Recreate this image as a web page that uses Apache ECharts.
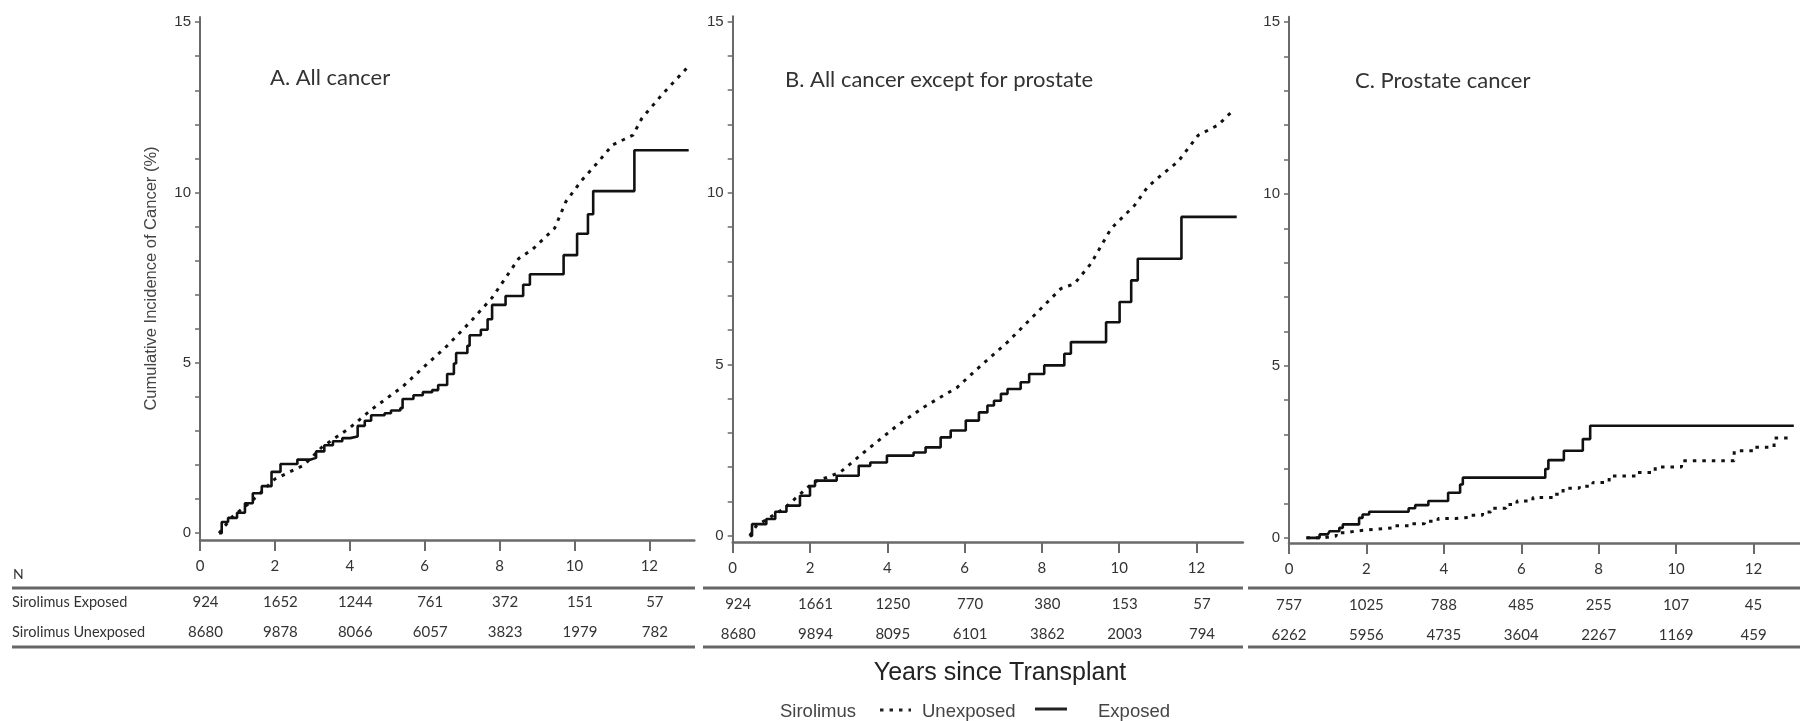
<!DOCTYPE html>
<html><head><meta charset="utf-8">
<script src="https://cdn.jsdelivr.net/npm/echarts@6/dist/echarts.min.js"></script>
<style>html,body{margin:0;padding:0;background:#fff;}#c{width:1800px;height:721px;}</style>
</head><body><div id="c"></div>
<script>
// ---------------- data ----------------
const X_TICKS = [0, 2, 4, 6, 8, 10, 12];
const Y_LABELS = [0, 5, 10, 15];
const Y_TICKS = [0, 1, 2, 3, 4, 5, 6, 7, 8, 9, 10, 11, 12, 13, 14, 15];

const titles = ['A. All cancer', 'B. All cancer except for prostate', 'C. Prostate cancer'];

// [years, cumulative incidence %]
const A_unexposed = [[0.51,0],[0.87,0.49],[1.35,0.91],[2.0,1.59],[2.78,2.0],[3.26,2.53],[4.01,3.10],[4.57,3.62],[5.41,4.30],[6.03,4.93],[6.60,5.50],[7.20,6.18],[7.80,6.91],[8.51,8.06],[8.87,8.32],[9.47,8.95],[9.77,9.73],[10.19,10.35],[10.66,10.93],[11.02,11.40],[11.56,11.68],[11.8,12.18],[12.33,12.86],[12.99,13.64]];
const A_exposed = [[0.51,0],[0.58,0.33],[0.75,0.45],[0.99,0.6],[1.2,0.88],[1.41,1.17],[1.65,1.38],[1.91,1.80],[2.15,2.03],[2.6,2.16],[2.96,2.21],[3.1,2.4],[3.32,2.58],[3.55,2.7],[3.80,2.79],[4.01,2.84],[4.21,3.15],[4.4,3.3],[4.57,3.46],[4.93,3.52],[5.1,3.6],[5.35,3.67],[5.41,3.94],[5.7,4.05],[5.95,4.14],[6.2,4.2],[6.36,4.35],[6.6,4.67],[6.78,4.98],[6.84,5.29],[7.14,5.50],[7.20,5.81],[7.50,5.97],[7.68,6.28],[7.80,6.70],[8.16,6.96],[8.63,7.29],[8.81,7.60],[9.71,8.16],[10.07,8.79],[10.36,9.36],[10.5,10.04],[11.6,11.24],[13.05,11.24]];

const B_unexposed = [[0.44,0],[0.61,0.29],[1.31,0.78],[2.09,1.56],[2.78,1.85],[3.39,2.43],[4.25,3.21],[4.94,3.75],[5.81,4.33],[6.33,4.87],[7.11,5.65],[7.97,6.62],[8.49,7.21],[8.84,7.35],[9.27,7.94],[9.79,8.96],[10.4,9.64],[10.74,10.18],[11.09,10.52],[11.52,10.91],[11.65,11.10],[12.04,11.68],[12.56,11.98],[12.95,12.41]];
const B_exposed = [[0.44,0],[0.5,0.34],[0.87,0.49],[1.1,0.7],[1.39,0.88],[1.74,1.17],[2.0,1.45],[2.13,1.61],[2.69,1.75],[3.26,2.04],[3.56,2.14],[3.99,2.34],[4.68,2.43],[4.99,2.58],[5.38,2.87],[5.64,3.07],[6.03,3.36],[6.37,3.60],[6.59,3.80],[6.76,3.94],[6.94,4.14],[7.11,4.28],[7.45,4.48],[7.67,4.72],[8.06,4.97],[8.58,5.31],[8.75,5.65],[9.66,6.23],[10.01,6.82],[10.31,7.45],[10.48,8.08],[11.61,9.30],[13.04,9.30]];

const C_unexposed = [[0.45,0],[0.88,0.05],[1.22,0.15],[1.5,0.2],[1.73,0.24],[2.15,0.29],[2.7,0.35],[3.17,0.41],[3.5,0.48],[3.85,0.56],[4.3,0.6],[4.70,0.66],[5.0,0.75],[5.21,0.86],[5.6,0.97],[5.89,1.07],[6.3,1.17],[6.83,1.27],[7.08,1.44],[7.5,1.5],[7.85,1.61],[8.27,1.80],[8.95,1.90],[9.46,2.06],[10.14,2.24],[11.5,2.53],[12.02,2.63],[12.53,2.90],[12.95,2.90]];
const C_exposed = [[0.45,0],[0.79,0.1],[1.0,0.15],[1.05,0.19],[1.30,0.29],[1.39,0.39],[1.81,0.58],[1.90,0.68],[2.07,0.76],[3.09,0.86],[3.26,0.95],[3.60,1.07],[4.11,1.31],[4.42,1.55],[4.49,1.75],[6.62,2.0],[6.70,2.26],[7.10,2.53],[7.59,2.87],[7.78,3.26],[13.04,3.26]];

const nExposedA = [924, 1652, 1244, 761, 372, 151, 57];
const nUnexposedA = [8680, 9878, 8066, 6057, 3823, 1979, 782];
const nExposedB = [924, 1661, 1250, 770, 380, 153, 57];
const nUnexposedB = [8680, 9894, 8095, 6101, 3862, 2003, 794];
const nExposedC = [757, 1025, 788, 485, 255, 107, 45];
const nUnexposedC = [6262, 5956, 4735, 3604, 2267, 1169, 459];

const rowLabels = ['Sirolimus Exposed', 'Sirolimus Unexposed'];

// ---------------- layout ----------------
const XMAX = 13.2, YMAX = 15.15;
const panels = [
  { grid: {left: 200, top: 17, width: 494.3, height: 523}, ymin: -0.2, titlePos: [270, 67],
    unexp: A_unexposed, exp: A_exposed, unexpStep: false, nE: nExposedA, nU: nUnexposedA, shift: 11, line: [12, 695] },
  { grid: {left: 732.7, top: 16.3, width: 510.2, height: 525.7}, ymin: -0.18, titlePos: [785, 69],
    unexp: B_unexposed, exp: B_exposed, unexpStep: false, nE: nExposedB, nU: nUnexposedB, shift: 11, line: [703, 1243] },
  { grid: {left: 1289, top: 16.7, width: 516.1, height: 526.3}, ymin: -0.15, titlePos: [1355, 70],
    unexp: C_unexposed, exp: C_exposed, unexpStep: 'end', nE: nExposedC, nU: nUnexposedC, shift: 0, line: [1248, 1800] }
];

const CAL = 'Lato, "Open Sans", sans-serif';
const ARI = '"Liberation Sans", Arial, sans-serif';
const NAR = '"Liberation Sans Narrow", "Liberation Sans", Arial, sans-serif';
const AX = '#6a6a6a';

const grids = [], xAxes = [], yAxes = [], series = [], titleArr = [], graphics = [];

panels.forEach((p, i) => {
  grids.push(Object.assign({containLabel: false}, p.grid));
  xAxes.push({
    gridIndex: i, type: 'value', min: 0, max: XMAX,
    axisLine: {show: true, onZero: false, lineStyle: {color: AX, width: 2.5}},
    axisTick: {show: true, customValues: X_TICKS, length: 11, lineStyle: {color: AX, width: 2}},
    axisLabel: {customValues: X_TICKS, margin: 19, fontFamily: CAL, fontSize: 15, color: '#333'},
    splitLine: {show: false}
  });
  yAxes.push({
    gridIndex: i, type: 'value', min: p.ymin, max: YMAX,
    axisLine: {show: true, onZero: false, lineStyle: {color: AX, width: 2}},
    axisTick: {show: true, customValues: Y_TICKS, length: 5, lineStyle: {color: AX, width: 1.5}},
    axisLabel: {customValues: Y_LABELS, margin: 9, fontFamily: NAR, fontSize: 15, color: '#333'},
    splitLine: {show: false},
    name: i === 0 ? 'Cumulative Incidence of Cancer (%)' : '',
    nameLocation: 'middle', nameGap: 40, nameRotate: 90,
    nameTextStyle: {fontFamily: ARI, fontSize: 16.5, color: '#444'}
  });
  titleArr.push({
    text: titles[i], left: p.titlePos[0], top: p.titlePos[1], padding: 0,
    textStyle: {fontFamily: CAL, fontSize: 22, fontWeight: 'normal', color: '#333'}
  });
  series.push({
    name: 'Unexposed', type: 'line', xAxisIndex: i, yAxisIndex: i, data: p.unexp,
    step: p.unexpStep, symbol: 'none', showSymbol: false, silent: true,
    lineStyle: {color: '#111', width: 3, type: [3.5, 6]}
  });
  series.push({
    name: 'Exposed', type: 'line', xAxisIndex: i, yAxisIndex: i, data: p.exp,
    step: 'end', symbol: 'none', showSymbol: false, silent: true,
    lineStyle: {color: '#111', width: 2.6}
  });
  // table lines
  [588, 647].forEach(y => graphics.push({
    type: 'line', shape: {x1: p.line[0], y1: y, x2: p.line[1], y2: y},
    style: {stroke: '#666', lineWidth: 3}, silent: true
  }));
});

// table "axes": number at risk rows placed by the same x scale
panels.forEach((p, i) => {
  [[p.nE, 47], [p.nU, 77]].forEach(([arr, off]) => {
    xAxes.push({
      gridIndex: i, type: 'value', min: 0, max: XMAX, position: 'bottom', offset: off,
      axisLine: {show: false, onZero: false}, axisTick: {show: false}, splitLine: {show: false},
      axisLabel: {
        customValues: X_TICKS, margin: 8, fontFamily: CAL, fontSize: 15, color: '#333',
        padding: [0, 0, 0, p.shift],
        formatter: v => { const k = X_TICKS.indexOf(v); return k >= 0 ? String(arr[k]) : ''; }
      }
    });
  });
});

// side texts
graphics.push({type: 'text', left: 13, top: 567, style: {text: 'N', font: '14px ' + CAL, fill: '#333'}, silent: true});
graphics.push({type: 'text', left: 12, top: 595, style: {text: rowLabels[0], font: '14.5px ' + CAL, fill: '#333'}, silent: true});
graphics.push({type: 'text', left: 12, top: 625, style: {text: rowLabels[1], font: '14.5px ' + CAL, fill: '#333'}, silent: true});
graphics.push({type: 'text', x: 1000, y: 673, style: {text: 'Years since Transplant', font: '25px ' + ARI, fill: '#222', align: 'center', verticalAlign: 'middle'}, silent: true});
// legend
graphics.push({type: 'text', x: 780, y: 712, style: {text: 'Sirolimus', font: '18.5px ' + ARI, fill: '#444', verticalAlign: 'middle'}, silent: true});
graphics.push({type: 'line', shape: {x1: 880, y1: 710, x2: 911, y2: 710}, style: {stroke: '#222', lineWidth: 3, lineDash: [3.5, 6]}, silent: true});
graphics.push({type: 'text', x: 922, y: 712, style: {text: 'Unexposed', font: '18.5px ' + ARI, fill: '#444', verticalAlign: 'middle'}, silent: true});
graphics.push({type: 'line', shape: {x1: 1035, y1: 709, x2: 1067, y2: 709}, style: {stroke: '#222', lineWidth: 3}, silent: true});
graphics.push({type: 'text', x: 1098, y: 712, style: {text: 'Exposed', font: '18.5px ' + ARI, fill: '#444', verticalAlign: 'middle'}, silent: true});

const chart = echarts.init(document.getElementById('c'), null, {renderer: 'canvas'});
chart.setOption({
  backgroundColor: '#fff',
  animation: false,
  title: titleArr,
  grid: grids,
  xAxis: xAxes,
  yAxis: yAxes,
  series: series,
  graphic: graphics
});
</script></body></html>
